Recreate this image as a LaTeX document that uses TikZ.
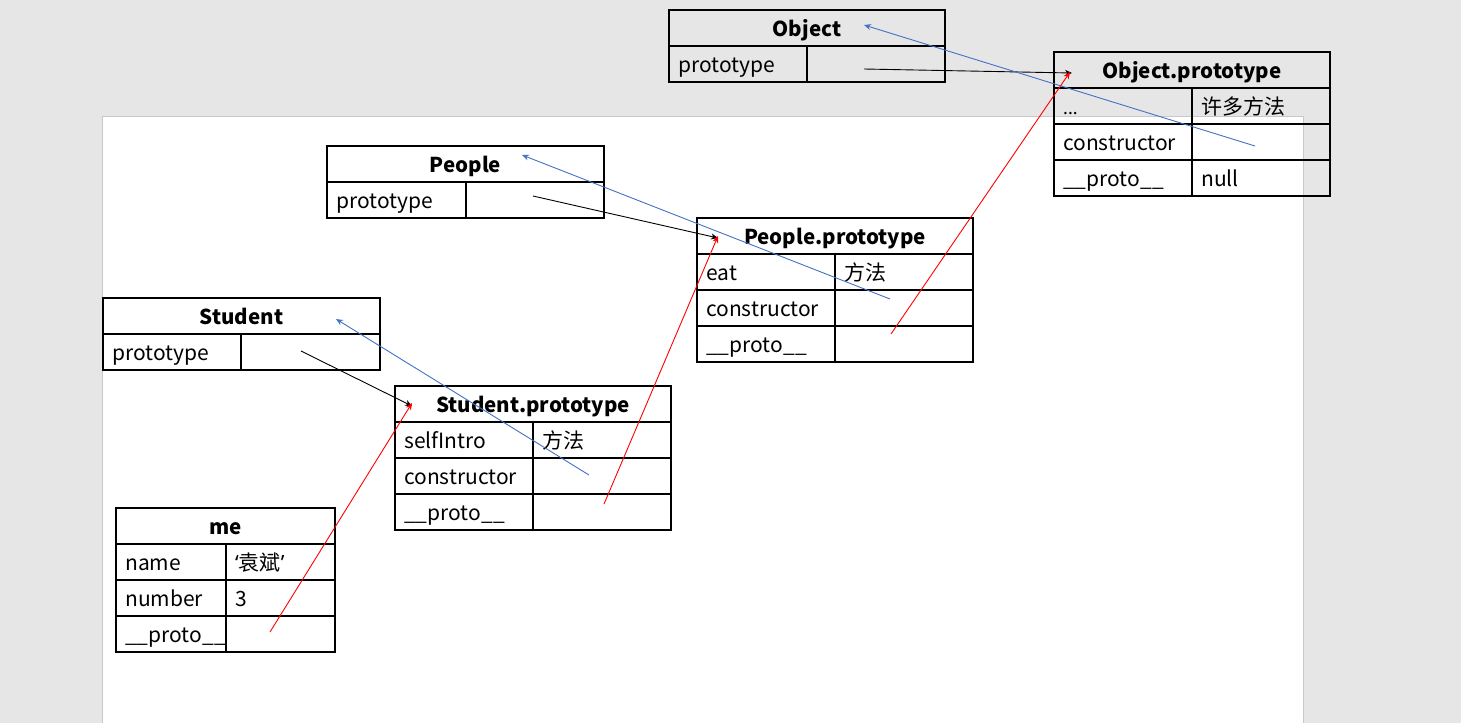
\documentclass[tikz,border=0pt]{standalone}
\usepackage{fontspec}
\setmainfont{Noto Sans CJK SC}
\newfontfamily\latinfont{Noto Sans}
\usetikzlibrary{arrows.meta}
\definecolor{bggray}{HTML}{E6E6E6}
\definecolor{pageedge}{HTML}{C8C8C8}
\definecolor{ablue}{HTML}{4472C4}
\definecolor{ared}{HTML}{FF0000}
\tikzset{
  cell/.style={draw=black, line width=1.2pt, minimum height=36pt, inner sep=0pt, outer sep=0pt, anchor=north west},
  htxt/.style={anchor=base, inner sep=0pt, font=\fontsize{20.5}{24}\selectfont\bfseries},
  ktxt/.style={anchor=base west, inner sep=0pt, font=\fontsize{21}{24}\selectfont},
  link/.style={line width=0.9pt, -{Stealth[length=7pt,width=6pt]}},
  blk/.style={link, draw=black},
  blu/.style={link, draw=ablue},
  rd/.style={link, draw=ared},
}
\newcommand\hdrrow[5]{%
  \node[cell, minimum width=#4pt] (#1) at (#2,#3) {};
  \node[htxt] (#1t) at ([yshift=-8pt]#1.center) {#5};}
\newcommand\kvrow[7]{%
  \node[cell, minimum width=#4pt] (#1k) at (#2,#3) {};
  \node[cell, minimum width=#5pt] (#1v) at (#1k.north east) {};
  \node[ktxt] (#1kt) at ([xshift=9pt,yshift=-8pt]#1k.west) {#6};
  \node[ktxt] (#1vt) at ([xshift=9pt,yshift=-8pt]#1v.west) {#7};}
\begin{document}
\begin{tikzpicture}[x=1pt,y=-1pt]
\useasboundingbox (0,0) rectangle (1461,723);
\fill[bggray] (0,0) rectangle (1461,723);
\fill[white] (102,116) rectangle (1303,723);
\draw[pageedge, line width=1pt] (102,723) -- (102,116) -- (1303,116) -- (1303,723);
% Object
\hdrrow{objH}{669}{10}{276}{Object}
\kvrow{objA}{669}{46}{138}{138}{prototype}{}
% Object.prototype
\hdrrow{opH}{1054}{52}{276}{Object.prototype}
\kvrow{opA}{1054}{88}{138}{138}{{\latinfont\fontsize{18}{20}\selectfont ...}}{许多方法}
\kvrow{opB}{1054}{124}{138}{138}{constructor}{}
\kvrow{opC}{1054}{160}{138}{138}{\_\_proto\_\_}{null}
% People
\hdrrow{peH}{327}{146}{277}{People}
\kvrow{peA}{327}{182}{139}{138}{prototype}{}
% People.prototype
\hdrrow{ppH}{697}{218}{276}{People.prototype}
\kvrow{ppA}{697}{254}{138}{138}{eat}{方法}
\kvrow{ppB}{697}{290}{138}{138}{constructor}{}
\kvrow{ppC}{697}{326}{138}{138}{\_\_proto\_\_}{}
% Student
\hdrrow{stH}{103}{298}{277}{Student}
\kvrow{stA}{103}{334}{138}{139}{prototype}{}
% Student.prototype
\hdrrow{spH}{395}{386}{276}{Student.prototype}
\kvrow{spA}{395}{422}{138}{138}{selfIntro}{方法}
\kvrow{spB}{395}{458}{138}{138}{constructor}{}
\kvrow{spC}{395}{494}{138}{138}{\_\_proto\_\_}{}
% me
\hdrrow{meH}{116}{508}{219}{me}
\kvrow{meA}{116}{544}{110}{109}{name}{{\latinfont‘}袁斌{\latinfont’}}
\kvrow{meB}{116}{580}{110}{109}{number}{3}
\kvrow{meC}{116}{616}{110}{109}{\_\_proto\_\_}{}
% arrow endpoints
\coordinate (objP) at (864,69);
\coordinate (opIn) at (1072,73);
\coordinate (opCons) at (1255,146);
\coordinate (objIn) at (864,25);
\coordinate (ppProto) at (891,334);
\coordinate (opIn2) at (1070,72);
\coordinate (peP) at (533,196);
\coordinate (ppIn) at (718,238);
\coordinate (ppCons) at (890,299);
\coordinate (peIn) at (522,155);
\coordinate (spProto) at (604,504);
\coordinate (ppIn2) at (718,236);
\coordinate (stP) at (301,351);
\coordinate (spIn) at (412,406);
\coordinate (spCons) at (589,475);
\coordinate (stIn) at (336,319);
\coordinate (meProto) at (270,632);
\coordinate (spIn2) at (412,403);
% arrows
\draw[blk] (objP) -- (opIn);
\draw[blu] (opCons) -- (objIn);
\draw[rd] (ppProto) -- (opIn2);
\draw[blk] (peP) -- (ppIn);
\draw[blu] (ppCons) -- (peIn);
\draw[rd] (spProto) -- (ppIn2);
\draw[blk] (stP) -- (spIn);
\draw[blu] (spCons) -- (stIn);
\draw[rd] (meProto) -- (spIn2);
\end{tikzpicture}
\end{document}
